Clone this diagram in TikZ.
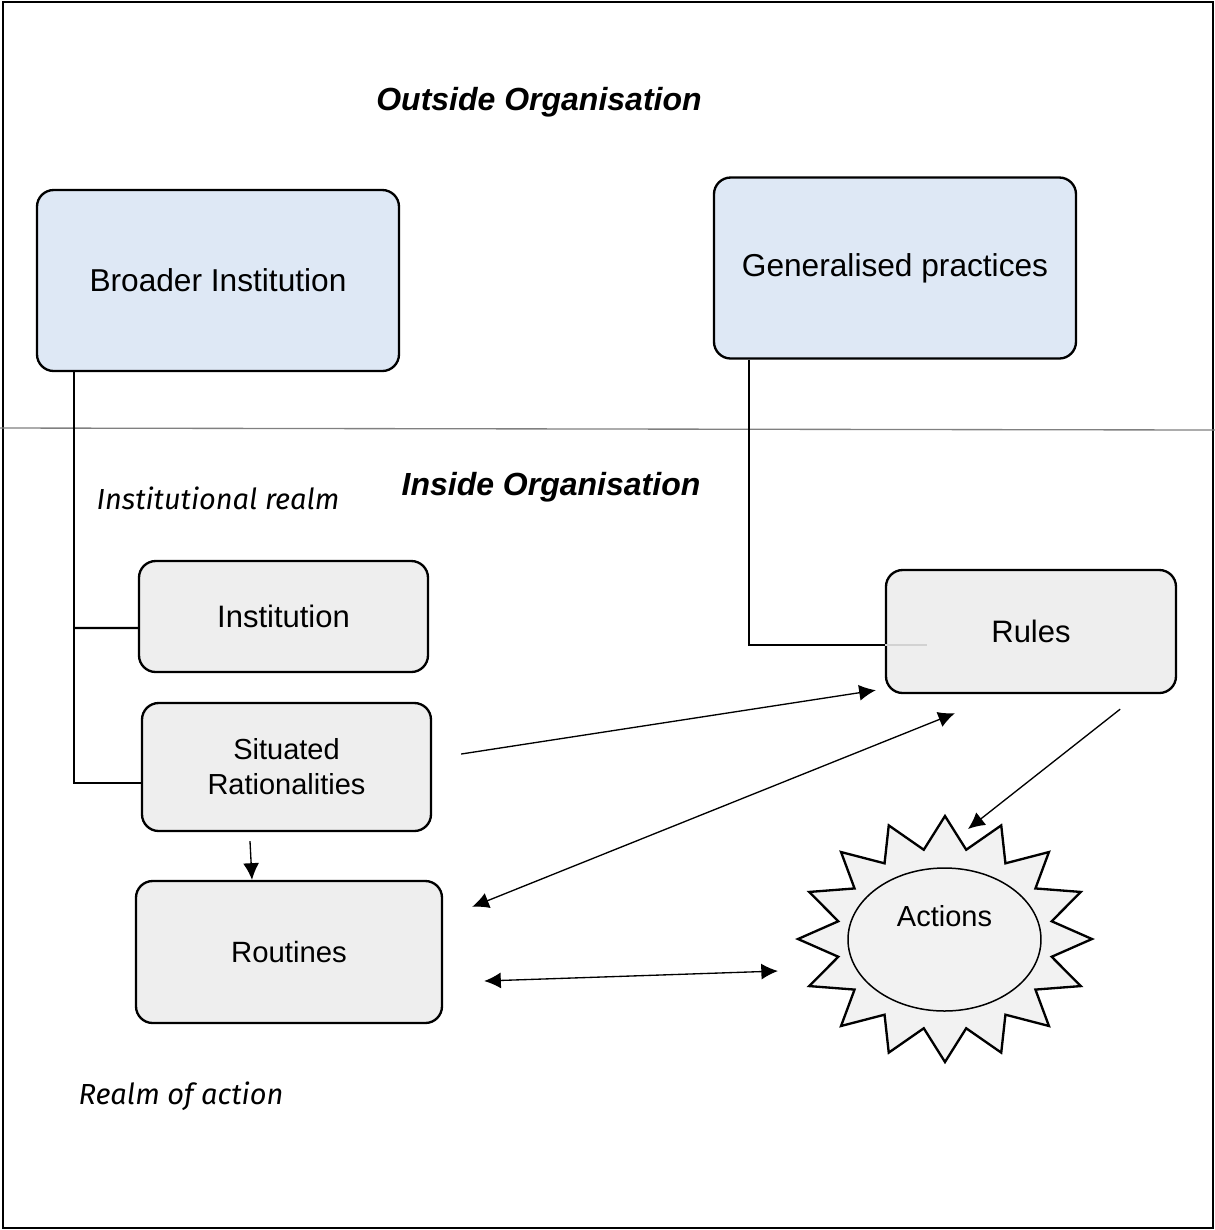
\documentclass[tikz,border=0pt]{standalone}
\usepackage{fontspec}
\setmainfont{Liberation Sans}
\newfontfamily\realmfont{Fira Sans}
\usetikzlibrary{arrows.meta,shapes.geometric}

\definecolor{outerblue}{HTML}{DEE8F5}
\definecolor{innergrey}{HTML}{EEEEEE}
\definecolor{burstgrey}{HTML}{F2F2F2}

\tikzset{
    outerbox/.style={draw, line width=0.7pt, rounded corners=5pt, fill=outerblue,
        minimum width=108.6pt, minimum height=54.3pt, font=\fontsize{9.5}{11}\selectfont},
    innerbox/.style={draw, line width=0.7pt, rounded corners=5pt, fill=innergrey,
        align=center, font=\fontsize{9.3}{10.5}\selectfont},
    link/.style={line width=0.7pt},
    arr/.style={line width=0.4pt, -{Latex[length=5pt,width=4.8pt]}},
    dblarr/.style={line width=0.4pt, {Latex[length=5pt,width=4.8pt]}-{Latex[length=5pt,width=4.8pt]}},
    heading/.style={font=\fontsize{9.6}{11}\selectfont\bfseries\itshape},
    realm/.style={font=\realmfont\itshape\fontsize{8.7}{11}\selectfont, anchor=west, inner sep=0pt}
}

\begin{document}
\begin{tikzpicture}[x=0.3pt, y=-0.3pt]
    \useasboundingbox (0,0) rectangle (1215,1230);
    \draw [line width=0.6pt] (3,2) rectangle (1213,1228);
    \draw [gray, line width=0.4pt] (0,428) -- (1215,430);

    % headings
    \node (outside) at (539,102) [heading] {Outside Organisation};
    \node (inside) at (551,487) [heading] {Inside Organisation};
    \node (instrealm) at (96,498) [realm] {Institutional realm};
    \node (actrealm) at (78,1096) [realm] {Realm of action};

    % boxes
    \node (broad) at (218,280.5) [outerbox] {Broader Institution};
    \node (genprac) at (895,268) [outerbox] {Generalised practices};
    \node (inst) at (283.5,616.5) [innerbox, minimum width=86.7pt, minimum height=33.3pt] {Institution};
    \node (situ) at (286.5,767) [innerbox, minimum width=86.7pt, minimum height=38.4pt,
        font=\fontsize{8.7}{10.5}\selectfont] {Situated\\Rationalities};
    \node (rout) at (289,952) [innerbox, minimum width=91.8pt, minimum height=42.6pt,
        font=\fontsize{8.8}{10.5}\selectfont] {Routines};
    \node (rules) at (1031,631.5) [innerbox, minimum width=87pt, minimum height=36.9pt] {Rules};

    % burst round the actions
    \coordinate (burst) at (945,939);
    \begin{scope}[shift={(burst)}]
    \filldraw [line width=0.7pt, fill=burstgrey] (0:147 and 123)
        \foreach \k in {1,...,31} { -- (\k*11.25:{147*(1-0.26*mod(\k,2))} and {123*(1-0.26*mod(\k,2))}) } -- cycle;
    \end{scope}
    \node (act) at (944.5,939.5) [ellipse, draw, line width=0.45pt, fill=burstgrey,
        minimum width=57.9pt, minimum height=42.9pt, inner sep=0pt, align=center,
        font=\fontsize{8.7}{14}\selectfont] {Actions\\\mbox{}};

    % institutional links
    \coordinate (trunk) at ([xshift=11.4pt]broad.south west);
    \draw [link] (trunk) |- ([yshift=-4.8pt]situ.west);
    \draw [link] (trunk |- inst.west) ++(0,11.5) -- ([yshift=-3.45pt]inst.west);
    \draw [link] ([xshift=10.8pt]genprac.south west) |- ([yshift=-4pt]rules.west);
    \draw [gray!35, line width=0.6pt] ([yshift=-4pt]rules.west) -- ++(42,0);

    % arrows
    \draw [arr] ([xshift=8.7pt, yshift=3.9pt]situ.east) -- ([xshift=-2.7pt, yshift=1.2pt]rules.south west);
    \draw [dblarr] ([xshift=-22.8pt, yshift=-5.7pt]rules.south) -- ([xshift=8.7pt, yshift=-8.1pt]rout.north east);
    \draw [arr] ([xshift=-17.1pt, yshift=-4.5pt]rules.south east) -- ([xshift=6.9pt, yshift=33pt]burst);
    \draw [arr] ([xshift=-10.95pt, yshift=-2.7pt]situ.south) -- ([xshift=-11.1pt]rout.north);
    \draw [dblarr] ([xshift=12.3pt, yshift=-8.7pt]rout.east) -- ([xshift=-50.1pt, yshift=-9.6pt]burst);
\end{tikzpicture}
\end{document}
